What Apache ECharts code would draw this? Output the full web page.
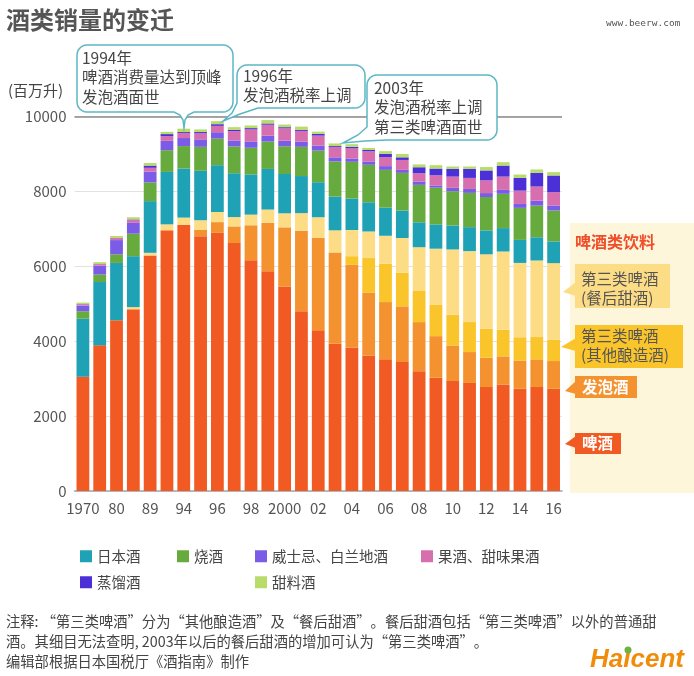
<!DOCTYPE html>
<html>
<head>
<meta charset="utf-8">
<script src="https://cdn.jsdelivr.net/npm/echarts@6/dist/echarts.min.js"></script>
<style>
html,body{margin:0;padding:0;background:#fff;}
#chart{width:694px;height:676px;}
</style>
</head>
<body>
<div id="chart"></div>
<script>
// ---- data (百万升) ----
const categories = ['1970','1975','1980','1985','1989','1992','1994','1995','1996','1997','1998','1999','2000','2001','2002','2003','2004','2005','2006','2007','2008','2009','2010','2011','2012','2013','2014','2015','2016'];
const xTickLabels = ['1970','','80','','89','','94','','96','','98','','2000','','02','','04','','06','','08','','10','','12','','14','','16'];
const beer       = [3050,3890,4560,4850,6290,6960,7110,6800,6900,6620,6160,5870,5460,4800,4290,3930,3830,3620,3515,3445,3200,3025,2935,2885,2775,2845,2730,2775,2730];
const happoshu   = [0,0,0,0,0,0,0,180,280,445,935,1290,1580,2150,2470,2440,2210,1680,1530,1485,1310,1110,950,825,785,750,755,740,740];
const thirdOther = [0,0,0,0,0,0,0,0,0,0,0,0,0,0,0,0,230,920,1025,900,830,835,820,800,775,710,620,595,570];
const liqueur    = [0,0,0,60,70,160,190,250,270,250,285,355,375,470,550,590,700,710,745,925,1170,1500,1745,1895,1985,2090,1985,2045,2045];
const sake       = [1550,1690,1530,1360,1380,1400,1310,1320,1250,1170,1075,1085,1050,990,935,900,840,780,750,735,665,650,640,640,640,625,615,620,580];
const shochu     = [200,200,230,600,500,580,600,640,710,715,710,730,740,780,845,940,980,1000,1010,1005,1000,980,915,915,890,915,855,845,825];
const whisky     = [150,240,380,290,290,250,215,200,170,160,170,160,150,140,135,110,90,90,100,80,90,60,90,105,105,105,105,135,135];
const fruitWine  = [30,40,50,70,100,125,135,160,170,250,320,290,330,285,265,270,270,270,240,265,220,270,300,295,340,355,355,375,355];
const spirits    = [10,0,10,20,60,55,25,35,45,35,35,35,30,30,45,30,40,35,90,70,160,180,205,240,265,295,340,365,445];
const mirin      = [40,50,50,60,70,60,90,70,80,70,70,90,70,85,60,70,70,55,70,90,75,90,65,65,90,90,90,90,90];

const seriesNames = ['啤酒','发泡酒','第三类啤酒(其他酿造酒)','第三类啤酒(餐后甜酒)','日本酒','烧酒','威士忌、白兰地酒','果酒、甜味果酒','蒸馏酒','甜料酒'];
const seriesData  = [beer,happoshu,thirdOther,liqueur,sake,shochu,whisky,fruitWine,spirits,mirin];
const seriesColors = ['#f15a22','#f3922f','#f9c52a','#fcdc85','#1fa2b5','#67ab3f','#7a5ce6','#d76fae','#4b30d8','#b7dc6a'];

const FONT = '"Noto Sans CJK SC","Noto Sans",sans-serif';
const TEAL = '#5bb7c3';

function bubble(x0,y0,x1,y1,r,tail,skipBL){
  const pts=[];
  function arc(cx,cy,a0,a1){
    const n=6;
    for(let i=0;i<=n;i++){const a=a0+(a1-a0)*i/n;pts.push([cx+r*Math.cos(a),cy+r*Math.sin(a)]);}
  }
  arc(x0+r,y0+r,Math.PI,1.5*Math.PI);
  arc(x1-r,y0+r,1.5*Math.PI,2*Math.PI);
  arc(x1-r,y1-r,0,0.5*Math.PI);
  tail.forEach(p=>pts.push(p));
  if(!skipBL) arc(x0+r,y1-r,0.5*Math.PI,Math.PI);
  return {type:'polygon',shape:{points:pts},style:{fill:'#fff',stroke:TEAL,lineWidth:1.5},z:10};
}
function txt(x,y,text,opt){
  return Object.assign({type:'text',x:x,y:y,z:20,style:Object.assign({text:text,fontFamily:FONT,fontSize:15,fill:'#444',verticalAlign:'middle',align:'left'},opt||{})});
}
function legendAt(name,left,top){
  return {data:[name],left:left,top:top,orient:'horizontal',padding:0,itemWidth:12,itemHeight:12,icon:'rect',itemGap:5,
    textStyle:{fontFamily:FONT,fontSize:14.5,color:'#444'}};
}

const series = seriesNames.map((n,i)=>{
  const s = {name:n,type:'bar',stack:'total',data:seriesData[i],barCategoryGap:'24%',
    itemStyle:{color:seriesColors[i]},emphasis:{disabled:true}};
  if(i===0){
    s.markLine={silent:true,symbol:'none',label:{show:false},lineStyle:{color:'#8a8a8a',width:1.5,type:'solid'},data:[{yAxis:10000}]};
  }
  return s;
});

const graphics = [
  txt(6,20,'酒类销量的变迁',{fontSize:24,fontWeight:'bold',fill:'#555'}),
  txt(606,24,'www.beerw.com',{fontSize:9.5,fill:'#555',fontFamily:'"DejaVu Sans Mono",monospace'}),
  txt(8,90,'(百万升)',{fontSize:15,fill:'#444'}),
  // bubbles
  bubble(77,45,233,112,10,[[194,112],[188,115],[185,120],[184,128],[183,120],[180,115],[174,112]],false),
  bubble(237,65,365,108,10,[[258,108],[240,114],[223,121],[232,113],[237,103]],true),
  bubble(367,75,497,140,10,[[387,140],[365,141],[343,143],[358,135],[367,127]],true),
  txt(82,48,'1994年\n啤酒消费量达到顶峰\n发泡酒面世',{fontSize:15.5,lineHeight:19.5,verticalAlign:'top'}),
  txt(243,66,'1996年\n发泡酒税率上调',{fontSize:15.5,lineHeight:19.5,verticalAlign:'top'}),
  txt(374,78,'2003年\n发泡酒税率上调\n第三类啤酒面世',{fontSize:15.5,lineHeight:19.5,verticalAlign:'top'}),
  // right panel
  {type:'rect',shape:{x:570,y:223,width:124,height:270},style:{fill:'#fdf6da'},z:5},
  txt(575,242,'啤酒类饮料',{fontSize:16,fill:'#f04e2a',fontWeight:'bold'}),
  {type:'polygon',shape:{points:[[576,282],[563,292],[576,296]]},style:{fill:'#fcdc85'},z:6},
  {type:'rect',shape:{x:575,y:264,width:95,height:44},style:{fill:'#fcdc85'},z:6},
  txt(581,270,'第三类啤酒\n(餐后甜酒)',{fontSize:15.5,lineHeight:19,verticalAlign:'top',fill:'#555'}),
  {type:'polygon',shape:{points:[[576,338],[561,347],[576,351]]},style:{fill:'#f9c52a'},z:6},
  {type:'rect',shape:{x:575,y:325,width:108,height:43},style:{fill:'#f9c52a'},z:6},
  txt(581,327,'第三类啤酒\n(其他酿造酒)',{fontSize:15.5,lineHeight:19,verticalAlign:'top',fill:'#555'}),
  {type:'polygon',shape:{points:[[576,381],[565,391],[576,394]]},style:{fill:'#f3922f'},z:6},
  {type:'rect',shape:{x:575,y:376,width:62,height:22},style:{fill:'#f3922f'},z:6},
  txt(582,387,'发泡酒',{fontSize:15.5,fill:'#fff',fontWeight:'bold'}),
  {type:'polygon',shape:{points:[[576,436],[565,444],[576,448]]},style:{fill:'#f15a22'},z:6},
  {type:'rect',shape:{x:575,y:433,width:46,height:21},style:{fill:'#f15a22'},z:6},
  txt(582,443.5,'啤酒',{fontSize:15.5,fill:'#fff',fontWeight:'bold'}),
  // footnotes
  txt(6,622,'注释: “第三类啤酒”分为“其他酿造酒”及“餐后甜酒”。餐后甜酒包括“第三类啤酒”以外的普通甜',{fontSize:14.3,fill:'#444'}),
  txt(6,642,'酒。其细目无法查明, 2003年以后的餐后甜酒的增加可认为“第三类啤酒”。',{fontSize:14.3,fill:'#444'}),
  txt(6,662,'编辑部根据日本国税厅《酒指南》制作',{fontSize:14.3,fill:'#444'}),
  txt(590,660,'Haicent',{fontSize:26,fontWeight:'bold',fontStyle:'italic',fill:'#f08c0a',fontFamily:'"Liberation Sans",Arial,sans-serif'}),
  {type:'circle',shape:{cx:628,cy:650,r:3.5},style:{fill:'#6cb33f'},z:21}
];

const option = {
  backgroundColor:'#fff',
  animation:false,
  textStyle:{fontFamily:FONT},
  grid:{left:74.5,right:132,top:116.5,bottom:185},
  legend:[
    legendAt('日本酒',80,549),
    legendAt('烧酒',177,549),
    legendAt('威士忌、白兰地酒',255,549),
    legendAt('果酒、甜味果酒',421,549),
    legendAt('蒸馏酒',80,575),
    legendAt('甜料酒',255,575)
  ],
  xAxis:{type:'category',data:categories,
    axisTick:{show:false},
    axisLine:{lineStyle:{color:'#9aa9b8',width:1.5}},
    axisLabel:{interval:0,fontSize:15,color:'#555',margin:10,formatter:(v,i)=>xTickLabels[i]}},
  yAxis:{type:'value',min:0,max:10000,interval:2000,
    axisLine:{show:false},axisTick:{show:false},
    axisLabel:{fontSize:15,color:'#555',margin:8,formatter:(v)=>String(v)},
    splitLine:{lineStyle:{color:'#e2e2e2',width:1}}},
  series:series,
  graphic:{elements:graphics}
};
const chart = echarts.init(document.getElementById('chart'),null,{renderer:'canvas'});
chart.setOption(option);
</script>
</body>
</html>
